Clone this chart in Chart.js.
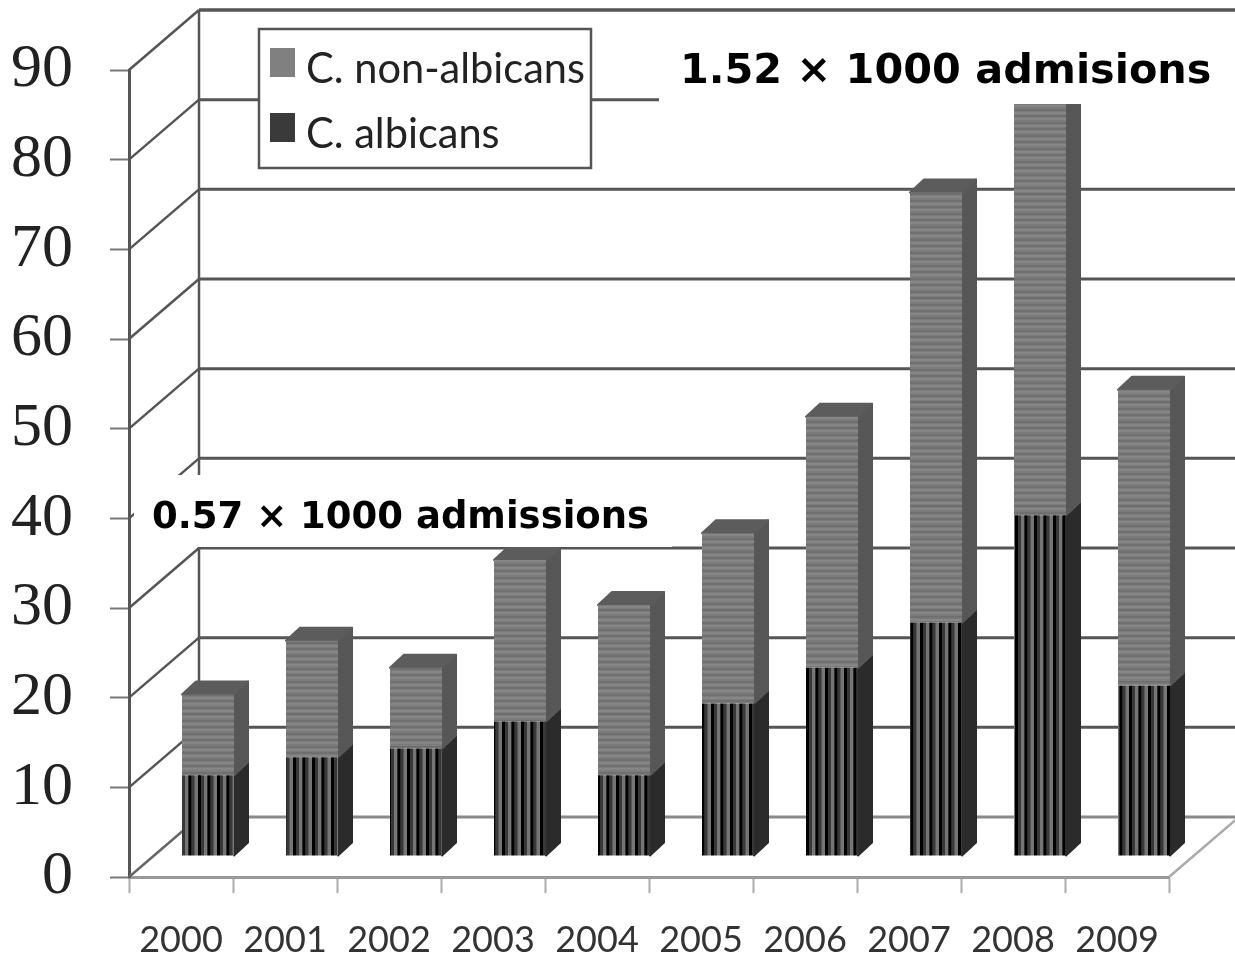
<!DOCTYPE html>
<html>
<head>
<meta charset="utf-8">
<title>Candida</title>
<script src="https://cdn.jsdelivr.net/npm/chart.js@4"></script>
<style>
	html, body { margin: 0; padding: 0; background: #fff; }
	canvas { display: block; }
</style>
</head>
<body>
<canvas id="myChart" width="1235" height="956"></canvas>
<script>
const years = ['2000', '2001', '2002', '2003', '2004', '2005', '2006', '2007', '2008', '2009'];
const albicans = [9, 11, 12, 15, 9, 17, 21, 26, 38, 19];
const nonAlbicans = [9, 13, 9, 18, 19, 19, 28, 48, 50, 33];
const yTicks = [0, 10, 20, 30, 40, 50, 60, 70, 80, 90];
const legendNames = ['C. non-albicans', 'C. albicans'];
const noteHigh = '1.52 × 1000 admisions';
const noteLow = '0.57 × 1000 admissions';

// fake 3D: the back wall sits up and right of the axes, bars stand halfway in
const wall = { dx: 70, dy: -60 };
const barShift = { dx: 27, dy: -21 };
const depth = { dx: 14, dy: -13 };

function stripes(w, h, paint) {
	const c = document.createElement('canvas');
	c.width = w;
	c.height = h;
	paint(c.getContext('2d'));
	return c.getContext('2d').createPattern(c, 'repeat');
}

const darkFill = stripes(19, 4, g => {
	// opaque base, the half pixel stripe edges would let the grid show through
	g.fillStyle = '#383838';
	g.fillRect(0, 0, 19, 4);
	for (let i = 0; i < 2; i++) {
		const x = i * 9.5;
		g.fillStyle = '#000';
		g.fillRect(x, 0, 3, 4);
		g.fillStyle = '#383838';
		g.fillRect(x + 3, 0, 3, 4);
		g.fillStyle = '#757575';
		g.fillRect(x + 6, 0, 3.5, 4);
	}
});

const greyFill = stripes(4, 13, g => {
	g.fillStyle = '#7c7c7c';
	g.fillRect(0, 0, 4, 13);
	g.fillStyle = '#707070';
	g.fillRect(0, 0, 4, 2);
	g.fillRect(0, 6, 4, 2);
	g.fillStyle = '#868686';
	g.fillRect(0, 3, 4, 2);
	g.fillRect(0, 9, 4, 2);
});

function line(ctx, x1, y1, x2, y2, color, width) {
	ctx.strokeStyle = color;
	ctx.lineWidth = width;
	ctx.beginPath();
	ctx.moveTo(x1, y1);
	ctx.lineTo(x2, y2);
	ctx.stroke();
}

function poly(ctx, pts, color) {
	ctx.fillStyle = color;
	ctx.strokeStyle = color;
	ctx.lineWidth = 2;
	ctx.lineJoin = 'round';
	ctx.beginPath();
	pts.forEach((p, i) => i ? ctx.lineTo(p[0], p[1]) : ctx.moveTo(p[0], p[1]));
	ctx.closePath();
	ctx.fill();
	ctx.stroke();
}

function note(ctx, box, text, x, y, font) {
	ctx.fillStyle = '#fff';
	ctx.fillRect(box[0], box[1], box[2], box[3]);
	ctx.fillStyle = '#000';
	ctx.font = font;
	ctx.textAlign = 'left';
	ctx.textBaseline = 'alphabetic';
	ctx.fillText(text, x, y);
}

const wallPlugin = {
	id: 'wall',
	beforeDatasetsDraw(chart) {
		const ctx = chart.ctx;
		const yScale = chart.scales.y;
		const left = chart.scales.x.left;
		const right = chart.scales.x.right;
		ctx.save();
		yTicks.forEach(t => {
			const y = yScale.getPixelForValue(t);
			const color = t === 0 ? '#8a8a8a' : '#555';
			line(ctx, left, y, left + wall.dx, y + wall.dy, t === 0 ? '#666' : '#555', 2.5);
			line(ctx, left + wall.dx, y + wall.dy, chart.width, y + wall.dy, color, t === 90 ? 3.5 : 3);
		});
		line(ctx, left + wall.dx, yScale.getPixelForValue(90) + wall.dy, left + wall.dx, yScale.getPixelForValue(0) + wall.dy, '#555', 2.5);
		// floor edge on the right
		line(ctx, right, yScale.getPixelForValue(0), right + wall.dx, yScale.getPixelForValue(0) + wall.dy, '#aaa', 2.5);

		// everything the datasets draw is pushed onto the floor
		ctx.translate(barShift.dx, barShift.dy);
		const metaA = chart.getDatasetMeta(0).data;
		const metaB = chart.getDatasetMeta(1).data;
		metaA.forEach((bar, i) => {
			const a = bar.getProps(['x', 'y', 'base', 'width']);
			const b = metaB[i].getProps(['y', 'base']);
			const r = a.x + a.width / 2;
			const l = a.x - a.width / 2;
			poly(ctx, [[r, a.base], [r + depth.dx, a.base + depth.dy], [r + depth.dx, a.y + depth.dy], [r, a.y]], '#2b2b2b');
			poly(ctx, [[r, a.y], [r + depth.dx, a.y + depth.dy], [r + depth.dx, b.y + depth.dy], [r, b.y]], '#575757');
			poly(ctx, [[l, b.y], [l + depth.dx, b.y + depth.dy], [r + depth.dx, b.y + depth.dy], [r, b.y]], '#5c5c5c');
		});
	},
	afterDatasetsDraw(chart) {
		const ctx = chart.ctx;
		ctx.restore();

		ctx.save();
		note(ctx, [659, 30, 576, 74], noteHigh, 680, 83, 'bold 41.4px "DejaVu Sans", sans-serif');
		note(ctx, [134, 475, 538, 72], noteLow, 152, 528, 'bold 37px "DejaVu Sans", sans-serif');

		// legend box
		ctx.fillStyle = '#fff';
		ctx.fillRect(259, 29, 332, 139);
		ctx.strokeStyle = '#555';
		ctx.lineWidth = 2.5;
		ctx.strokeRect(259, 29, 332, 139);
		ctx.fillStyle = '#808080';
		ctx.fillRect(270, 48, 25, 29);
		ctx.fillStyle = '#3a3a3a';
		ctx.fillRect(270, 113, 25, 29);
		ctx.fillStyle = '#222';
		ctx.font = '43px Lato, sans-serif';
		ctx.textAlign = 'left';
		ctx.textBaseline = 'alphabetic';
		// legend names are set condensed, squeeze them to the box width
		const squeeze = 279 / ctx.measureText(legendNames[0]).width;
		ctx.translate(306, 0);
		ctx.scale(squeeze, 1);
		ctx.fillText(legendNames[0], 0, 83);
		ctx.fillText(legendNames[1], 0, 148);
		ctx.restore();
	}
};

new Chart(document.getElementById('myChart').getContext('2d'), {
	type: 'bar',
	data: {
		labels: years,
		datasets: [
			{ label: legendNames[1], data: albicans, backgroundColor: darkFill, clip: false },
			{ label: legendNames[0], data: nonAlbicans, backgroundColor: greyFill, clip: false }
		]
	},
	options: {
		responsive: false,
		animation: false,
		layout: { padding: { top: 70, right: 66, left: 0, bottom: 0 } },
		datasets: { bar: { categoryPercentage: 1, barPercentage: 0.5 } },
		plugins: { legend: { display: false }, tooltip: { enabled: false } },
		scales: {
			x: {
				stacked: true,
				afterFit: s => { s.height = 79; },
				border: { color: '#999', width: 3 },
				grid: { drawOnChartArea: false, tickLength: 16, tickColor: '#aaa', tickWidth: 2 },
				ticks: {
					padding: 26,
					maxRotation: 0,
					color: '#333',
					font: { family: 'Lato, sans-serif', size: 36 }
				}
			},
			y: {
				stacked: true,
				min: 0,
				max: 90,
				afterFit: s => {
					s.width = 129;
					// big tick labels must not push the plot area down
					s.paddingTop = 0;
					s.paddingBottom = 0;
				},
				afterBuildTicks: s => { s.ticks = yTicks.map(v => ({ value: v })); },
				border: { color: '#555', width: 3 },
				grid: { drawOnChartArea: false, tickLength: 19, tickColor: '#777', tickWidth: 2 },
				ticks: {
					padding: 37,
					color: '#222',
					font: { family: '"Liberation Serif", serif', size: 62 }
				}
			}
		}
	},
	plugins: [wallPlugin]
});
</script>
</body>
</html>
